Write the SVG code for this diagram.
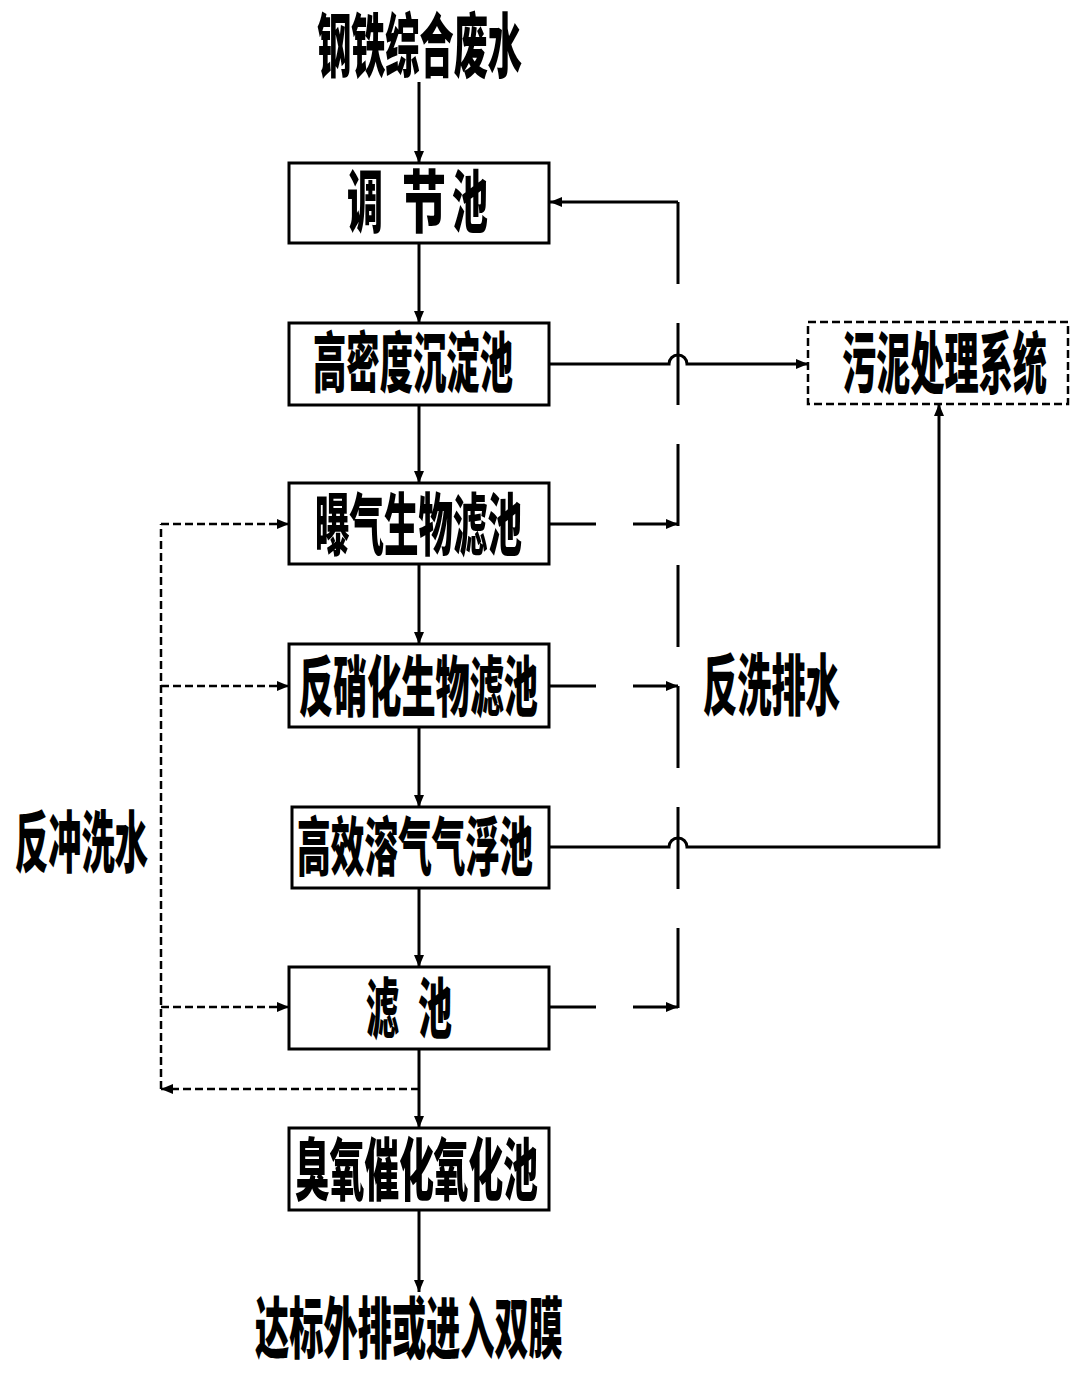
<svg xmlns="http://www.w3.org/2000/svg" width="1084" height="1377" viewBox="0 0 1084 1377">
<style>
.bg{fill:#fff}
.box{fill:#fff;stroke:#000;stroke-width:3}
.dbox{fill:#fff;stroke:#000;stroke-width:2.5;stroke-dasharray:8 4}
.ln{fill:none;stroke:#000;stroke-width:3}
.dl{fill:none;stroke:#000;stroke-width:2.5;stroke-dasharray:8 4}
.ldash{fill:none;stroke:#000;stroke-width:3;stroke-dasharray:82 39}
.t{font-family:"Noto Sans CJK SC","Noto Sans CJK TC",sans-serif;font-weight:900;fill:#000}
</style>
<defs>
<marker id="ah" markerWidth="12" markerHeight="10" refX="12" refY="5" orient="auto" markerUnits="userSpaceOnUse">
<path d="M0,0 L12,5 L0,10 z" fill="#000"/>
</marker>
</defs>
<rect class="bg" x="0" y="0" width="1084" height="1377"/>

<g id="connectors">
<!-- main flow -->
<path class="ln" d="M419 82 V163" marker-end="url(#ah)"/>
<path class="ln" d="M419 243 V323" marker-end="url(#ah)"/>
<path class="ln" d="M419 405 V483" marker-end="url(#ah)"/>
<path class="ln" d="M419 564 V644" marker-end="url(#ah)"/>
<path class="ln" d="M419 727 V807" marker-end="url(#ah)"/>
<path class="ln" d="M419 888 V967" marker-end="url(#ah)"/>
<path class="ln" d="M419 1049 V1128" marker-end="url(#ah)"/>
<path class="ln" d="M419 1210 V1292" marker-end="url(#ah)"/>
<!-- backwash drain -->
<path class="ldash" d="M678 202 V1008"/>
<path class="ln" d="M678 202 H550" marker-end="url(#ah)"/>
<path class="ln" d="M549 524 H596"/>
<path class="ln" d="M633 524 H678" marker-end="url(#ah)"/>
<path class="ln" d="M549 686 H596"/>
<path class="ln" d="M633 686 H678" marker-end="url(#ah)"/>
<path class="ln" d="M549 1007 H596"/>
<path class="ln" d="M633 1007 H678" marker-end="url(#ah)"/>
<!-- sludge -->
<path class="ln" d="M549 364 H669 A9 9 0 0 1 687 364 H808" marker-end="url(#ah)"/>
<path class="ln" d="M549 847 H669 A9 9 0 0 1 687 847 H939 V404" marker-end="url(#ah)"/>
<!-- backflush water -->
<path class="dl" d="M419 1089 H161" marker-end="url(#ah)"/>
<path class="dl" d="M161 1089 V524"/>
<path class="dl" d="M161 524 H289" marker-end="url(#ah)"/>
<path class="dl" d="M161 686 H289" marker-end="url(#ah)"/>
<path class="dl" d="M161 1007 H289" marker-end="url(#ah)"/>
</g>

<g id="n-input"><text class="t" x="317" y="72" font-size="70" textLength="205" lengthAdjust="spacingAndGlyphs">钢铁综合废水</text></g>

<g id="n-tiaojie">
<rect class="box" x="289" y="163" width="260" height="80"/>
<text class="t" x="347" y="227" font-size="68" textLength="36" lengthAdjust="spacingAndGlyphs">调</text>
<text class="t" x="402" y="227" font-size="68" textLength="44" lengthAdjust="spacingAndGlyphs">节</text>
<text class="t" x="452" y="227" font-size="68" textLength="36" lengthAdjust="spacingAndGlyphs">池</text>
</g>

<g id="n-gaomidu">
<rect class="box" x="289" y="323" width="260" height="82"/>
<text class="t" x="313" y="387" font-size="66" textLength="200" lengthAdjust="spacingAndGlyphs">高密度沉淀池</text>
</g>

<g id="n-baoqi">
<rect class="box" x="289" y="483" width="260" height="81"/>
<text class="t" x="315" y="550" font-size="68" textLength="207" lengthAdjust="spacingAndGlyphs">曝气生物滤池</text>
</g>

<g id="n-fanxiaohua">
<rect class="box" x="289" y="644" width="260" height="83"/>
<text class="t" x="299" y="711" font-size="66" textLength="239" lengthAdjust="spacingAndGlyphs">反硝化生物滤池</text>
</g>

<g id="n-gaoxiao">
<rect class="box" x="292" y="807" width="257" height="81"/>
<text class="t" x="297" y="870" font-size="64" textLength="236" lengthAdjust="spacingAndGlyphs">高效溶气气浮池</text>
</g>

<g id="n-lvchi">
<rect class="box" x="289" y="967" width="260" height="82"/>
<text class="t" x="366" y="1033" font-size="66" textLength="33" lengthAdjust="spacingAndGlyphs">滤</text>
<text class="t" x="418" y="1033" font-size="66" textLength="34" lengthAdjust="spacingAndGlyphs">池</text>
</g>

<g id="n-chouyang">
<rect class="box" x="289" y="1128" width="260" height="82"/>
<text class="t" x="295" y="1195" font-size="68" textLength="243" lengthAdjust="spacingAndGlyphs">臭氧催化氧化池</text>
</g>

<g id="n-output"><text class="t" x="255" y="1353" font-size="67" textLength="308" lengthAdjust="spacingAndGlyphs">达标外排或进入双膜</text></g>

<g id="n-wuni">
<rect class="dbox" x="808" y="322" width="260" height="82"/>
<text class="t" x="842" y="388" font-size="67" textLength="205" lengthAdjust="spacingAndGlyphs">污泥处理系统</text>
</g>

<g id="l-fanxi"><text class="t" x="703" y="710" font-size="67" textLength="137" lengthAdjust="spacingAndGlyphs">反洗排水</text></g>
<g id="l-fanchong"><text class="t" x="15" y="867" font-size="67" textLength="133" lengthAdjust="spacingAndGlyphs">反冲洗水</text></g>
</svg>
